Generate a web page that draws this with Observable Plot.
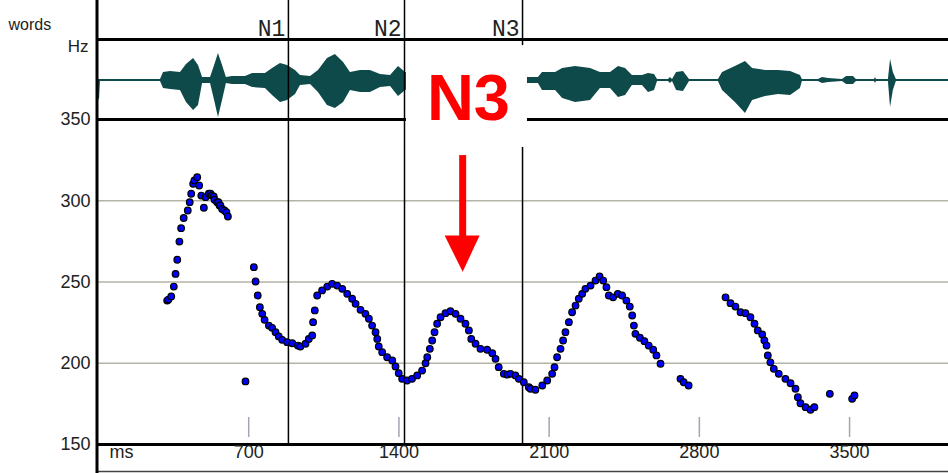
<!DOCTYPE html>
<html><head><meta charset="utf-8">
<script src="https://cdn.jsdelivr.net/npm/d3@7"></script>
<script src="https://cdn.jsdelivr.net/npm/@observablehq/plot@0.6"></script>
<style>
html,body{margin:0;padding:0;background:#fff;overflow:hidden;}
#chart{position:relative;width:948px;height:473px;background:#fff;}
#chart svg{position:absolute;left:0;top:0;}
</style></head><body><div id="chart"></div>
<script>
// ---- data ----
const pitchMs = [320,326,339,351,359,367,377,385,397,416,425,432,441,447,460,469,479,491,499,514,522,527,537,541,553,559,564,568,576,587,596,603,
 685,
 724,732,742,752,763,774,794,809,825,840,856,879,903,929,941,965,980,996,1000,1008,1019,1042,1066,1089,1112,1136,1159,1182,1198,1221,1244,1260,1275,1291,1299,1306,1322,1345,1369,1384,1399,1415,1438,1461,1485,1508,1524,1532,1544,1555,1566,1578,1594,1617,1640,1664,1687,1710,1726,1737,1757,1780,1811,1835,1850,1865,1889,1905,1920,1943,1959,1982,2005,2013,2036,2068,2091,2114,2125,2137,2153,2165,2176,2192,2207,2223,2238,2254,2269,2293,2316,2335,2352,2367,2378,2398,2420,2440,2460,2476,2487,2495,2502,2523,2544,2564,2585,2600,2619,
 2712,2727,2750,
 2922,2945,2968,2992,3015,3038,3057,3072,3093,3103,3113,3119,3131,3147,3170,3201,3225,3248,3259,3271,3295,3318,3336,
 3408,3512,3523];
const pitchHz = [238.6,239.2,241.1,247.2,255.0,263.7,274.9,283.1,289.4,294.0,299.1,304.3,310.4,312.5,314.5,309.4,303.2,295.7,302.2,304.3,304.3,303.2,302.6,300.6,299.1,299.1,297.1,297.1,295.0,294.0,293.0,290.3,
 188.8,
 259.1,250.3,241.7,234.5,230.4,226.7,223.2,221.8,219.1,216.5,214.4,213.0,212.3,210.9,210.3,212.0,215.0,217.1,225.3,232.5,241.7,244.8,247.2,248.9,247.8,245.8,242.7,239.7,236.6,232.9,230.4,227.4,223.2,219.1,215.0,210.3,206.8,203.7,201.7,198.0,193.9,190.4,189.4,190.4,192.5,195.5,200.0,203.7,208.9,214.0,219.1,224.3,228.3,230.8,232.0,230.4,227.4,224.3,220.2,215.0,212.0,208.9,208.3,206.2,202.7,197.6,193.5,193.0,193.5,192.5,190.4,188.3,185.3,184.3,183.7,186.3,189.4,193.5,197.6,203.7,208.9,214.0,219.1,225.3,231.4,235.5,239.7,242.7,245.8,247.8,250.9,253.4,250.9,246.8,241.7,240.6,242.7,241.7,238.6,234.9,229.4,223.2,218.1,215.7,213.6,210.9,208.3,204.8,199.7,
 190.4,188.3,186.3,
 240.6,237.0,234.9,231.4,230.8,228.3,224.3,220.2,217.7,214.0,210.9,204.8,200.6,196.6,193.5,190.4,187.7,184.3,179.1,175.4,173.0,171.4,173.0,
 181.2,178.1,180.2];

// waveform envelope (time in ms, amplitude above / below the zero line)
const waveMs   = [0,5,9,289,303,336,382,410,443,466,485,522,541,559,578,596,624,685,718,778,811,848,881,918,941,988,1025,1067,1104,1142,1174,1221,1267,1314,1361,1398,1431,1500,1950,2004,2050,2069,2130,2163,2223,2293,2339,2386,2423,2456,2488,2535,2563,2591,2605,2656,2665,2675,2694,2726,2754,2889,2908,2968,3015,3048,3108,3169,3225,3271,3280,3355,3374,3402,3467,3486,3518,3532,3616,3621,3625,3681,3691,3704,3718,3961];
const waveUp   = [1,1,1,1,8,9,8,16,22,15,3,3,15,27,15,3,4,4,7,7,12,17,15,10,5,4,10,22,26,18,8,10,10,6,5,14,8,4,4,3,3,8,8,12,14,12,8,8,14,12,5,5,7,6,1,1,3,1,8,9,1,1,8,14,19,12,10,10,9,5,1,1,3,2,1,4,4,1,1,3,1,1,21,8,1,1];
const waveDown = [20,18,1,1,8,9,10,22,30,25,3,3,20,37,20,3,4,4,7,8,15,22,20,14,5,4,12,25,28,22,10,12,12,7,6,16,10,4,4,3,3,10,10,18,22,20,8,8,17,15,5,5,12,10,1,1,3,1,10,11,1,1,10,22,33,20,16,14,15,8,1,1,3,2,1,4,4,1,1,3,1,1,27,10,1,1];

const hzTicks = [150, 200, 250, 300, 350];
const gridHz = [200, 250, 300];
const msTicks = [700, 1400, 2100, 2800, 3500];
const boundaryMs = [885, 1426, 1976];
const boundaryLabels = ["N1", "N2", "N3"];
const timeDomain = [0, 3961];
const hzDomain = [150, 350];
const waveDomain = [-39, 41];

// annotation (data coordinates)
const noteLabel = "N3";
const noteMs = 1724, noteHz = 362.6;
const noteBoxMs = [1435, 1999], noteBoxHz = [332.8, 395.5];
const arrowMs = 1697, arrowShaftHz = [327.8, 277.0];
const arrowHead = [{t: 1613, hz: 278.6}, {t: 1776, hz: 278.6}, {t: 1697, hz: 256.3}];
const msTickSpan = [154.3, 166.6];

// ---- build ----
const wave = waveMs.map((t, i) => ({t, up: waveUp[i], down: -waveDown[i]}));
const pts = pitchMs.map((t, i) => ({t, hz: pitchHz[i]}));
const FONT = "'Liberation Sans', Arial, sans-serif";

const W = Plot.plot({
  width: 948, height: 119, marginLeft: 98, marginRight: 0, marginTop: 39, marginBottom: 0,
  x: {domain: timeDomain, axis: null},
  y: {domain: waveDomain, axis: null},
  style: {background: "transparent", overflow: "visible"},
  marks: [
    Plot.areaY(wave, {x: "t", y1: "down", y2: "up", fill: "#0f4a4a"}),
    Plot.ruleY([waveDomain[1]], {stroke: "black", strokeWidth: 3})
  ]
});

const P = Plot.plot({
  width: 948, height: 473, marginLeft: 98, marginRight: 0, marginTop: 119, marginBottom: 29,
  x: {domain: timeDomain, axis: null},
  y: {domain: hzDomain, axis: null},
  style: {background: "transparent", overflow: "visible", fontFamily: FONT},
  marks: [
    Plot.ruleY(gridHz, {stroke: "#b3b3a6", strokeWidth: 1.5}),
    Plot.ruleX(msTicks, {x: d => d, y1: () => msTickSpan[0], y2: () => msTickSpan[1], stroke: "#a4a4b4", strokeWidth: 1.5}),
    Plot.ruleY([hzDomain[0], hzDomain[1]], {stroke: "black", strokeWidth: 3}),
    Plot.ruleY([hzDomain[0]], {dy: 27, stroke: "#444", strokeWidth: 1.5}),
    Plot.ruleX(boundaryMs, {stroke: "black", strokeWidth: 1.5, insetTop: -119}),
    Plot.ruleX([timeDomain[0]], {stroke: "black", strokeWidth: 3, insetTop: -119, insetBottom: -29, dx: -1.5}),
    Plot.dot(pts, {x: "t", y: "hz", r: 3.3, fill: "#0000ff", stroke: "black", strokeWidth: 1.2}),
    // annotation
    Plot.rect([0], {x1: () => noteBoxMs[0], x2: () => noteBoxMs[1], y1: () => noteBoxHz[0], y2: () => noteBoxHz[1], fill: "white"}),
    Plot.text([noteLabel], {x: () => noteMs, y: () => noteHz, text: d => d, fill: "#ff0000", fontSize: 65, fontWeight: "bold", fontFamily: FONT}),
    Plot.ruleX([arrowMs], {y1: () => arrowShaftHz[0], y2: () => arrowShaftHz[1], stroke: "#ff0000", strokeWidth: 7}),
    Plot.line(arrowHead, {x: "t", y: "hz", fill: "#ff0000", stroke: "none"}),
    // labels
    Plot.text(boundaryMs, {x: d => d, text: (d, i) => boundaryLabels[i], frameAnchor: "top", dy: -100, dx: -3, textAnchor: "end", fontFamily: "'Liberation Mono', 'DejaVu Sans Mono', monospace", fontSize: 23, fill: "#222"}),
    Plot.text(["words"], {x: () => timeDomain[0], text: d => d, frameAnchor: "top", dy: -101, dx: -90, textAnchor: "start", fontSize: 16, fill: "#222"}),
    Plot.text(["Hz"], {x: () => timeDomain[0], text: d => d, frameAnchor: "top", dy: -80, dx: -10, textAnchor: "end", fontSize: 17, fill: "#222"}),
    Plot.text(hzTicks, {x: () => timeDomain[0], y: d => d, text: d => String(d), dx: -8, textAnchor: "end", fontSize: 18, fill: "#222"}),
    Plot.text(msTicks, {x: d => d, text: d => String(d), frameAnchor: "bottom", dy: 13, fontSize: 18, fill: "#222"}),
    Plot.text(["ms"], {x: () => timeDomain[0], text: d => d, frameAnchor: "bottom", dy: 13, dx: 11, textAnchor: "start", fontSize: 18, fill: "#222"})
  ]
});

const chart = document.getElementById("chart");
chart.appendChild(W);
chart.appendChild(P);
</script>
</body></html>
